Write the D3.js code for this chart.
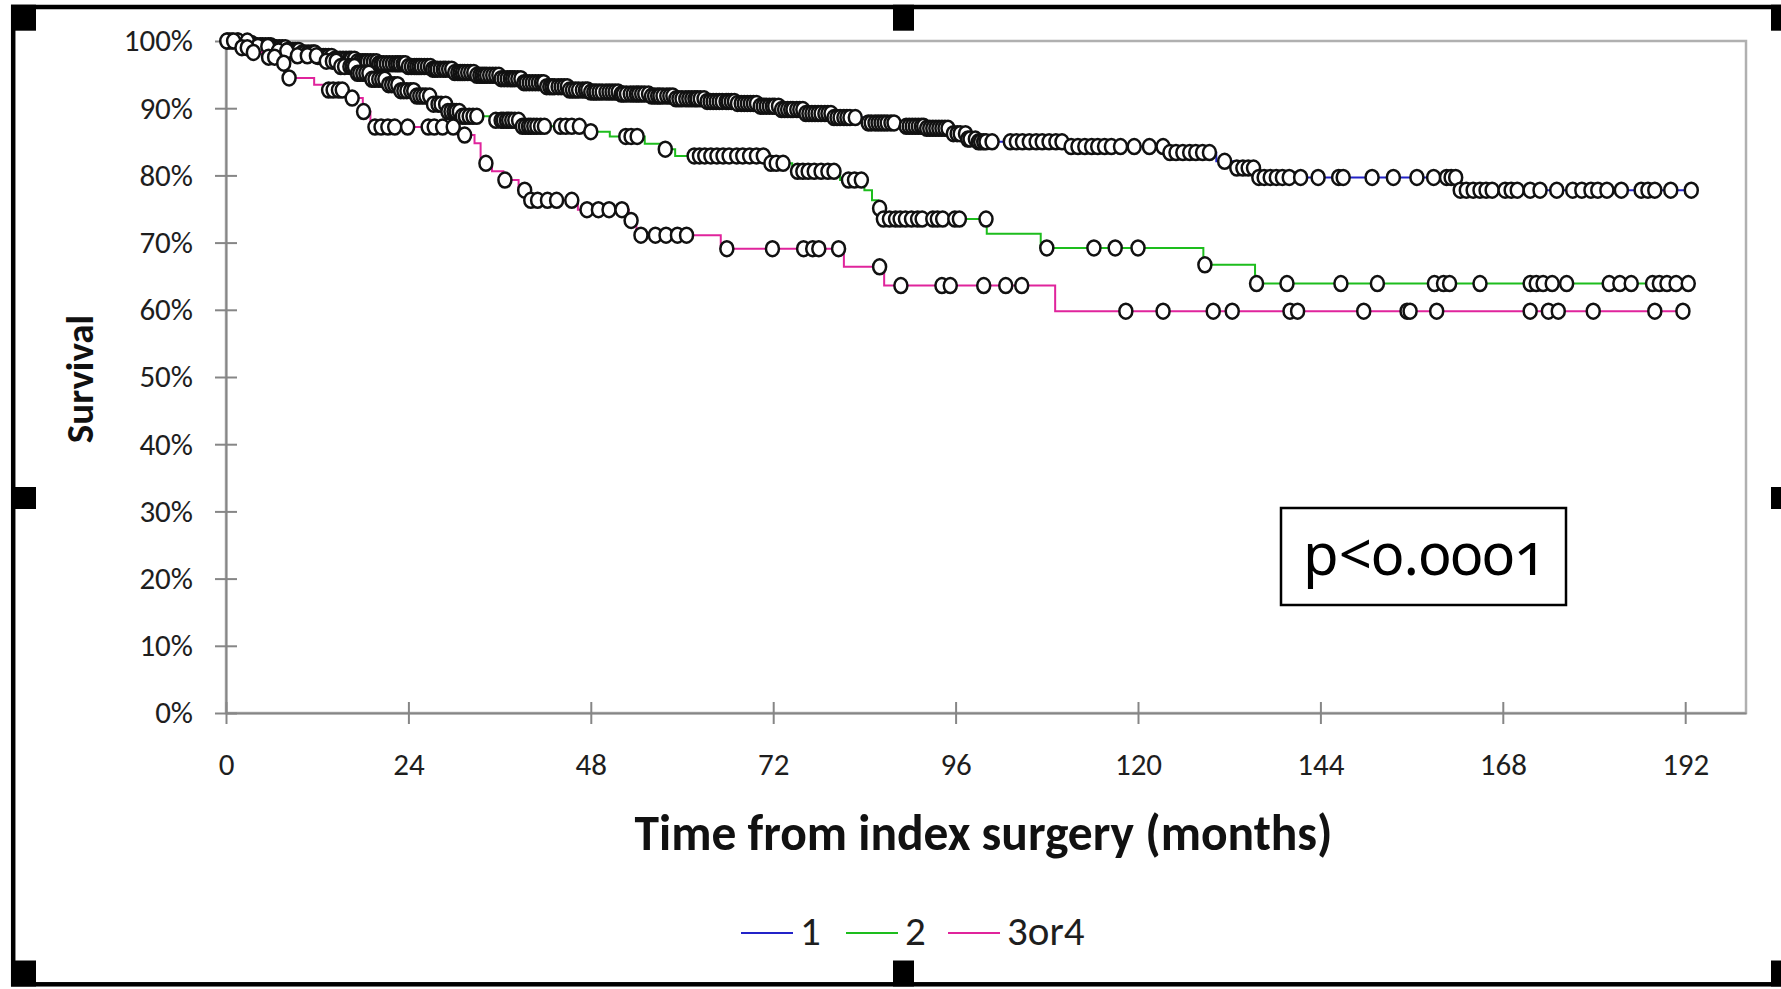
<!DOCTYPE html>
<html>
<head>
<meta charset="UTF-8">
<title>Survival by group</title>
<script src="https://d3js.org/d3.v7.min.js"></script>
<style>
  body { margin: 0; padding: 0; background: #fff; overflow: hidden; }
  svg { display: block; }
  .axis text { font-family: Carlito, "Liberation Sans Narrow", "Liberation Sans", sans-serif; font-size: 31px; fill: #1e1e1e; }
  .axis path, .axis line { stroke: #868686; stroke-width: 2px; }
  .title { font-family: Carlito, "Liberation Sans Narrow", "Liberation Sans", sans-serif; font-weight: bold; fill: #111; }
  .legend text { font-family: Carlito, "Liberation Sans Narrow", "Liberation Sans", sans-serif; font-size: 41px; fill: #1e1e1e; }
  .pval { font-family: "Noto Sans", "Open Sans", sans-serif; font-size: 58px; font-feature-settings: "onum"; fill: #000; }
</style>
</head>
<body>
<svg id="chart" width="1781" height="989"></svg>
<script>
// ---- data ----
const yTicks = [0, 10, 20, 30, 40, 50, 60, 70, 80, 90, 100];
const xTicks = [0, 24, 48, 72, 96, 120, 144, 168, 192];
const seriesNames = ["1", "2", "3or4"];
const seriesColors = ["#2323c8", "#1dbd1d", "#e0249c"];

// KM steps: [month, survival % from that month on]
const steps1 = [[0,100],[2,99.6],[4,99.3],[6,99.0],[8,98.6],[10,98.2],[12,97.7],[14,97.3],[17,96.9],[20,96.6],
  [24,96.2],[27,95.8],[30,95.3],[33,94.9],[36,94.4],[39,93.8],[42,93.2],[45,92.7],[48,92.4],[52,92.1],
  [56,91.8],[59,91.4],[63,91.0],[67,90.7],[70,90.3],[73,89.8],[76,89.2],[80,88.6],[84,87.8],[88,87.3],
  [92,87.0],[95.5,86.2],[97.5,85.4],[99,85.0],[111,84.3],[124,83.4],[130.3,82.1],[132.5,81.1],[135.8,79.7],[162.4,77.8]];
// censored months, group 1
const censor1 = [0.2,0.8,1.5,2.1,2.6,3.4,4.1,4.5,5.2,5.9,6.3,7.0,7.8,8.4,9.1,9.6,10.4,11.2,11.7,12.5,13.1,13.9,
  14.6,15.0,15.8,16.5,17.3,18.0,18.6,19.4,20.1,20.7,21.5,22.3,22.9,23.6,24.4,25.1,25.7,26.5,27.2,27.8,28.6,29.3,
  30.1,30.8,31.4,32.2,33.0,33.7,34.3,35.1,35.9,36.6,37.4,38.0,38.8,39.5,40.3,41.1,41.8,42.6,43.2,44.1,44.9,45.6,
  46.4,47.3,48.0,48.7,49.5,50.4,51.2,52.0,52.7,53.6,54.3,55.1,56.0,56.8,57.5,58.4,59.2,60.0,60.9,61.7,62.4,63.3,
  64.1,64.9,65.8,66.5,67.3,68.2,69.0,69.8,70.7,71.5,72.2,73.1,73.9,74.6,75.5,76.3,77.1,77.9,78.8,79.6,80.4,81.3,
  82.1,82.8,84.5,85.4,86.2,87.0,87.9,89.5,90.3,91.1,91.8,92.6,93.4,94.2,95.0,95.7,96.6,97.3,97.9,98.6,99.3,100.0,
  100.8,103.2,104.0,104.8,105.7,106.6,107.4,108.3,109.2,110.0,111.2,112.1,113.0,113.9,114.7,115.6,116.5,117.7,
  119.5,121.5,123.3,124.2,125.0,125.9,126.8,127.6,128.5,129.4,131.4,133.0,133.8,134.5,135.2,135.9,136.6,137.4,
  138.2,139.0,139.9,141.4,143.7,146.4,147.0,150.8,153.6,156.7,158.9,160.6,161.2,161.8,162.4,163.2,164.1,165.0,
  165.8,166.6,168.3,169.1,169.9,171.6,172.9,175.1,177.2,178.4,179.6,180.5,181.7,183.6,186.2,187.1,188.0,190.1,192.8];
// the dense band of group 1 holds many more censored cases
const censor1Dense = [4.8,5.6,6.6,7.4,8.1,8.8,9.4,10.0,10.8,11.5,12.1,12.8,13.5,14.3,15.4,16.2,16.9,17.7,18.3,19.0,
  19.8,20.4,21.1,21.9,22.6,23.3,24.0,24.8,25.4,26.1,26.9,27.5,28.2,28.9,29.7,30.5,31.1,31.8,32.6,33.4,34.0,34.7,
  35.5,36.2,37.0,37.7,38.4,39.2,39.9,40.7,41.5,42.2,42.9,43.7,44.5,45.2,46.0,46.9,47.6,48.4,49.1,50.0,50.8,51.6,
  52.3,53.2,54.0,54.7,55.6,56.4,57.1,58.0,58.8,59.6,60.5,61.3,62.0,62.9,63.7,64.5,65.3,66.1,66.9,67.8,68.6,69.4,
  70.3,71.1,71.9,72.7,73.5,74.3,75.1,75.9,76.7,77.5,78.3,79.2,80.0,80.8,81.7,84.9,85.8,86.6,87.5,89.9,90.7,91.5,
  92.2,93.0,93.8,94.6,96.2,97.6,99.0,99.7];

const steps2 = [[0,100],[3,99.2],[6,98.5],[9,97.8],[12,97.0],[15,96.2],[17,95.2],[19,94.3],[21,93.5],[23,92.6],
  [25,91.8],[27,90.6],[29,89.5],[31,88.8],[35,88.2],[39,87.3],[47.5,86.5],[50.5,85.8],[55.1,84.7],[57.5,83.9],
  [59.1,82.9],[71.3,81.8],[74.5,80.6],[80.8,79.3],[84,77.8],[85,76.3],[85.8,75.1],[86.3,73.5],[100.1,71.3],
  [107.2,69.2],[128.6,66.7],[135.4,63.9]];
const censor2 = [0.5,1.6,2.8,4.2,5.5,6.9,8.0,9.4,10.7,11.9,13.2,14.0,14.5,15.1,15.6,16.3,16.6,16.9,17.3,17.6,18.0,
  18.4,18.8,19.2,19.6,20.1,20.5,20.9,21.4,21.8,22.2,22.6,23.0,23.4,23.8,24.3,24.7,25.1,25.5,25.9,26.3,26.8,27.3,
  27.9,28.3,28.9,29.2,29.6,30.0,30.3,30.7,31.1,31.5,32.0,32.5,33.0,35.5,36.2,36.5,36.9,37.2,37.6,38.0,38.5,39.0,
  39.4,39.8,40.1,40.5,40.9,41.4,41.9,44.0,44.7,45.5,46.5,48.0,52.6,53.3,54.1,57.8,61.6,62.3,63.0,63.8,64.6,65.4,
  66.2,67.2,68.0,68.9,69.8,70.7,71.7,72.4,73.3,75.2,75.9,76.6,77.4,78.3,79.2,80.0,81.9,82.7,83.6,86.0,86.5,87.3,
  88.1,88.7,89.4,90.2,91.0,91.6,93.0,93.6,94.3,95.9,96.5,100.0,108.0,114.2,117.0,120.0,128.8,135.6,139.6,146.7,
  151.5,159.0,160.2,161.0,165.0,171.6,172.4,173.3,174.5,176.4,182.0,183.4,184.9,187.7,188.6,189.6,190.8,192.4];

const steps3 = [[0,100],[1.5,99.0],[3,98.3],[5,97.6],[6.5,96.7],[7.8,94.5],[11.6,93.5],[13,92.7],[16,91.5],
  [18,89.5],[19,87.2],[30.5,86.0],[32.7,84.8],[33.5,81.8],[35,80.6],[36.5,79.3],[38.5,77.8],[40,76.3],
  [46.3,74.9],[53,73.3],[54,71.1],[65.1,69.1],[81.3,66.4],[86.6,63.6],[109.1,59.8]];
const censor3 = [0.1,1.0,2.1,2.8,3.6,5.6,6.4,7.6,8.3,13.5,14.1,14.8,15.3,16.6,18.1,19.6,20.4,21.3,22.2,23.9,26.6,
  27.4,28.5,29.9,31.4,34.2,36.7,39.3,40.1,41.0,42.3,43.5,45.5,47.5,49.0,50.4,52.1,53.3,54.6,56.5,57.9,59.4,60.6,
  65.9,71.9,76.0,77.2,78.0,80.6,86.0,88.8,94.2,95.3,99.7,102.6,104.7,118.4,123.3,129.9,132.4,140.0,141.0,149.7,
  155.4,155.8,159.3,171.6,174.0,175.3,179.9,188.0,191.7];

const pText = "p<0.0001";

// ---- layout ----
const config = {
  left: 226, right: 1746, top: 41, bottom: 713,
  markerRx: 6.5, markerRy: 7.5
};

const svg = d3.select("#chart");

const x = d3.scaleLinear().domain([0, 200]).range([config.left, config.right]);
const y = d3.scaleLinear().domain([0, 100]).range([config.bottom, config.top]);

// outer frame with handles
svg.append("rect")
  .attr("x", 13.2).attr("y", 7).attr("width", 1800).attr("height", 977.3)
  .attr("fill", "none").attr("stroke", "#000").attr("stroke-width", 4.5);
const handles = [[11, 4.7, 25, 26], [893, 4.7, 21, 26], [1771, 4.7, 25, 26],
  [11, 487, 25, 22], [1771, 487, 25, 22],
  [11, 960.5, 25, 26], [893, 960.5, 21, 26], [1771, 960.5, 25, 26]];
svg.append("g").selectAll("rect").data(handles).join("rect")
  .attr("x", d => d[0]).attr("y", d => d[1]).attr("width", d => d[2]).attr("height", d => d[3])
  .attr("fill", "#000");

// plot area border
svg.append("rect")
  .attr("x", config.left).attr("y", config.top)
  .attr("width", config.right - config.left).attr("height", config.bottom - config.top)
  .attr("fill", "none").attr("stroke", "#b0b0b0").attr("stroke-width", 2.5);

// axes
const yAxis = svg.append("g").attr("class", "axis")
  .attr("transform", `translate(${config.left},0)`)
  .call(d3.axisLeft(y).tickValues(yTicks).tickFormat(d => d + "%").tickSize(11).tickSizeOuter(0).tickPadding(22));
yAxis.selectAll(".tick line").attr("x1", 11);

const xAxis = svg.append("g").attr("class", "axis")
  .attr("transform", `translate(0,${config.bottom})`)
  .call(d3.axisBottom(x).tickValues(xTicks).tickSize(11).tickSizeOuter(0));
xAxis.selectAll(".tick line").attr("y1", -11);
xAxis.selectAll(".tick text").attr("y", 62).attr("dy", 0);

// survival at a time from the step list
function survivalAt(steps, t) {
  let s = steps[0][1];
  for (const p of steps) { if (p[0] <= t) s = p[1]; }
  return s;
}

const stepLine = d3.line().curve(d3.curveStepAfter).x(d => x(d[0])).y(d => y(d[1]));

const series = [
  { steps: steps1, censor: censor1.concat(censor1Dense).sort((a, b) => a - b) },
  { steps: steps2, censor: censor2 },
  { steps: steps3, censor: censor3 }
];

series.forEach((s, i) => {
  const last = d3.max(s.censor);
  const pts = s.steps.concat([[last, survivalAt(s.steps, last)]]);
  const g = svg.append("g");
  g.append("path").datum(pts)
    .attr("d", stepLine)
    .attr("fill", "none").attr("stroke", seriesColors[i]).attr("stroke-width", 2);
  g.selectAll("ellipse").data(s.censor).join("ellipse")
    .attr("cx", d => x(d)).attr("cy", d => y(survivalAt(s.steps, d)))
    .attr("rx", config.markerRx).attr("ry", config.markerRy)
    .attr("fill", "#fff").attr("stroke", "#111").attr("stroke-width", 2.5);
});

// axis titles
svg.append("text").attr("class", "title")
  .attr("transform", "translate(93,379) rotate(-90)")
  .attr("text-anchor", "middle").style("font-size", "39px")
  .text("Survival");
svg.append("text").attr("class", "title")
  .attr("x", 983.5).attr("y", 850)
  .attr("text-anchor", "middle").style("font-size", "49.5px")
  .text("Time from index surgery (months)");

// legend
const legendX = [741, 846, 948];
const legend = svg.append("g").attr("class", "legend");
seriesNames.forEach((name, i) => {
  legend.append("line")
    .attr("x1", legendX[i]).attr("x2", legendX[i] + 52)
    .attr("y1", 933).attr("y2", 933)
    .attr("stroke", seriesColors[i]).attr("stroke-width", 2.2);
  legend.append("text")
    .attr("x", legendX[i] + 59).attr("y", 945)
    .text(name);
});

// p-value box
svg.append("rect")
  .attr("x", 1281).attr("y", 508).attr("width", 285).attr("height", 97)
  .attr("fill", "#fff").attr("stroke", "#000").attr("stroke-width", 2.5);
svg.append("text").attr("class", "pval")
  .attr("x", 1303).attr("y", 575)
  .text(pText);
</script>
</body>
</html>
